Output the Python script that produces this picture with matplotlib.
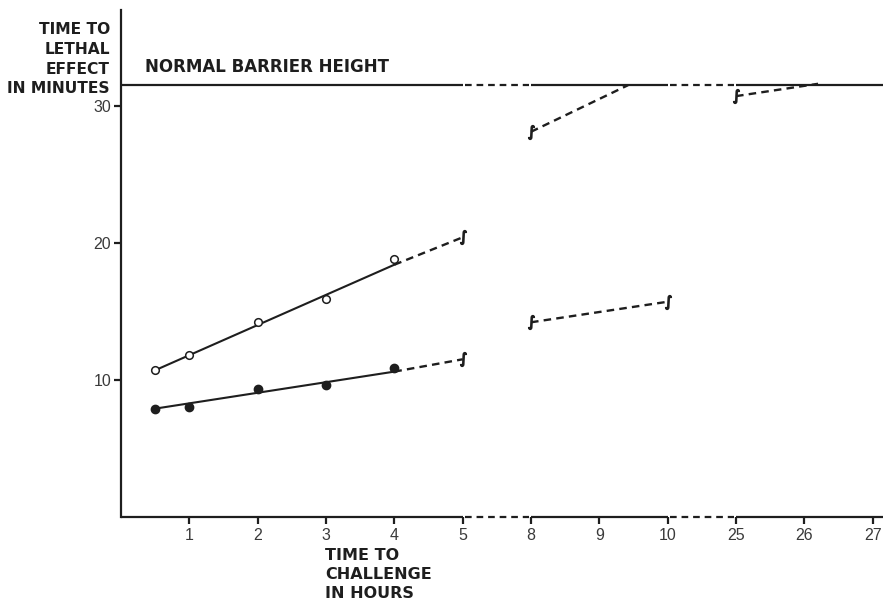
import matplotlib
matplotlib.use("Agg")
import matplotlib.pyplot as plt
import numpy as np

# ---- data (hours / minutes) ----
tick_hours = [1, 2, 3, 4, 5, 8, 9, 10, 25, 26, 27]
tick_labels = ["1", "2", "3", "4", "5", "8", "9", "10", "25", "26", "27"]
y_ticks = [10, 20, 30]

open_hours = [0.5, 1, 2, 3, 4]
open_vals = [10.7, 11.8, 14.2, 15.9, 18.8]
open_fit_hours = [0.5, 4]
open_fit_vals = [10.7, 18.4]
open_ext_hours = [4, 5]
open_ext_vals = [18.4, 20.4]

filled_hours = [0.5, 1, 2, 3, 4]
filled_vals = [7.9, 8.0, 9.3, 9.6, 10.9]
filled_fit_hours = [0.5, 4]
filled_fit_vals = [7.9, 10.6]
filled_ext_hours = [4, 5]
filled_ext_vals = [10.6, 11.5]

upper_mid_hours = [8, 9.42]
upper_mid_vals = [28.1, 31.5]
lower_mid_hours = [8, 10]
lower_mid_vals = [14.2, 15.7]
upper_late_hours = [25, 26.2]
upper_late_vals = [30.7, 31.6]

barrier_height = 31.5
solid_segments = [(0, 5), (8, 10), (25, 27.15)]
gap_segments = [(5, 8), (10, 25)]


def to_pos(h):
    h = np.asarray(h, dtype=float)
    return np.where(h <= 5.5, h, np.where(h <= 17, h - 2, h - 16))


ink = "#1e1e1e"
fig = plt.figure(figsize=(8.83, 6.11), dpi=100)
ax = fig.add_axes([0.137, 0.154, 0.863, 0.830])
ax.set_xlim(0, 11.15)
ax.set_ylim(0, 37)
for s in ["top", "right", "bottom"]:
    ax.spines[s].set_visible(False)
ax.spines["left"].set_color(ink)
ax.spines["left"].set_linewidth(1.6)

# x-axis and barrier line with breaks
for a, b in solid_segments:
    pa, pb = float(to_pos(a)), float(to_pos(b))
    for yv in (0, barrier_height):
        ax.plot([pa, pb], [yv, yv], color=ink, lw=1.6, clip_on=False, solid_capstyle="butt")
for a, b in gap_segments:
    pa, pb = float(to_pos(a)), float(to_pos(b))
    for yv in (0, barrier_height):
        ax.plot([pa + 0.03, pb - 0.03], [yv, yv], color=ink, lw=1.6, ls=(0, (3, 2.2)), clip_on=False)

# fitted lines
ax.plot(to_pos(open_fit_hours), open_fit_vals, color=ink, lw=1.5)
ax.plot(to_pos(filled_fit_hours), filled_fit_vals, color=ink, lw=1.5)
dash = (0, (3.2, 2.2))
for hx, vy in [(open_ext_hours, open_ext_vals), (filled_ext_hours, filled_ext_vals),
               (upper_mid_hours, upper_mid_vals), (lower_mid_hours, lower_mid_vals),
               (upper_late_hours, upper_late_vals)]:
    ax.plot(to_pos(hx), vy, color=ink, lw=1.7, ls=dash)

# break squiggles
sq_h = [open_ext_hours[1], filled_ext_hours[1], upper_mid_hours[0], lower_mid_hours[0],
        lower_mid_hours[1], upper_late_hours[0]]
sq_v = [open_ext_vals[1], filled_ext_vals[1], upper_mid_vals[0], lower_mid_vals[0],
        lower_mid_vals[1], upper_late_vals[0]]
ax.plot(to_pos(sq_h), sq_v, ls="none", marker=r"$\int$", ms=10, color=ink)

# data points
ax.plot(to_pos(open_hours), open_vals, ls="none", marker="o", ms=5.5,
        mfc="white", mec=ink, mew=1.1, zorder=5)
ax.plot(to_pos(filled_hours), filled_vals, ls="none", marker="o", ms=6,
        mfc=ink, mec=ink, zorder=5)

# ticks
ax.set_xticks(to_pos(tick_hours))
ax.set_xticklabels(tick_labels)
ax.set_yticks(y_ticks)
ax.set_yticklabels([str(v) for v in y_ticks])
ax.tick_params(axis="x", direction="out", length=5, width=1.6, color=ink, pad=3,
               labelsize=11.5, labelcolor="#3a3a3a")
ax.tick_params(axis="y", direction="out", length=5, width=1.6, color=ink, pad=2,
               labelsize=11.5, labelcolor="#3a3a3a")
for lab in ax.get_xticklabels() + ax.get_yticklabels():
    lab.set_fontfamily(["Liberation Sans Narrow", "Liberation Sans"])

lbl = dict(fontfamily="DejaVu Sans", fontweight="bold", color=ink)
fig.text(110 / 883, 1 - 22 / 611, "TIME TO\nLETHAL\nEFFECT\nIN MINUTES", ha="right", va="top",
         fontsize=11.2, linespacing=1.4, **lbl)
ax.text(0.35, 32.2, "NORMAL BARRIER HEIGHT", ha="left", va="bottom", fontsize=12, **lbl)
fig.text(325 / 883, 1 - 548 / 611, "TIME TO\nCHALLENGE\nIN HOURS", ha="left", va="top",
         fontsize=11.5, linespacing=1.35, **lbl)

fig.savefig("out.png", dpi=100, facecolor="white")
